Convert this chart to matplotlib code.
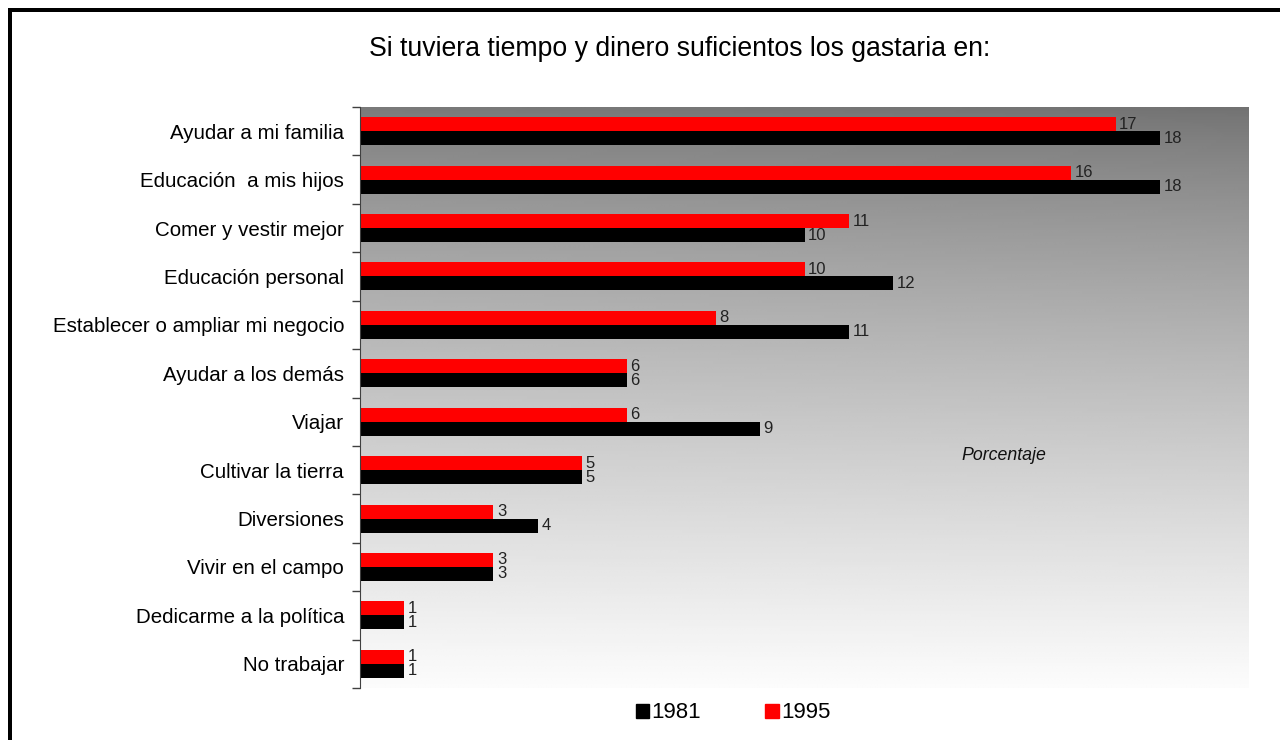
import numpy as np
import matplotlib
matplotlib.use("Agg")
import matplotlib.pyplot as plt
from matplotlib.patches import Patch, Rectangle

plt.rcParams["font.family"] = ["Liberation Sans", "DejaVu Sans"]

# datos
categorias = ["Ayudar a mi familia", "Educación  a mis hijos", "Comer y vestir mejor",
              "Educación personal", "Establecer o ampliar mi negocio", "Ayudar a los demás",
              "Viajar", "Cultivar la tierra", "Diversiones", "Vivir en el campo",
              "Dedicarme a la política", "No trabajar"]
v1981 = [18, 18, 10, 12, 11, 6, 9, 5, 4, 3, 1, 1]
v1995 = [17, 16, 11, 10, 8, 6, 6, 5, 3, 3, 1, 1]
series = ["1981", "1995"]

W, H = 1280, 740
fig = plt.figure(figsize=(12.8, 7.4), dpi=100)
ax = fig.add_axes([360 / W, 1 - 688 / H, (1249 - 360) / W, (688 - 107) / H])

n = len(categorias)
y = np.arange(n)
h = 0.29

# fondo degradado
gy, gx = np.mgrid[0:1:200j, 0:1:200j]
grad = 122 + 130 * gy ** 0.8 - 8 * gx * (1 - gy)
ax.imshow(grad / 255, cmap="gray", vmin=0, vmax=1, extent=[0, 20, n - 0.5, -0.5],
          aspect="auto", zorder=0, interpolation="bilinear")

ax.barh(y - h / 2, v1995, height=h, color="#ff0000", zorder=2)
ax.barh(y + h / 2, v1981, height=h, color="#000000", zorder=2)

for i in range(n):
    ax.text(v1995[i] + 0.08, y[i] - h / 2, str(v1995[i]), va="center", ha="left",
            fontsize=12, color="#222222", zorder=3)
    ax.text(v1981[i] + 0.08, y[i] + h / 2, str(v1981[i]), va="center", ha="left",
            fontsize=12, color="#222222", zorder=3)

ax.set_xlim(0, 20)
ax.set_ylim(n - 0.5, -0.5)
ax.set_xticks([])
ax.set_yticks(np.arange(n + 1) - 0.5)
ax.set_yticklabels([])
ax.set_yticks(y, minor=True)
ax.set_yticklabels(categorias, minor=True, fontsize=14.8)
ax.tick_params(axis="y", which="major", length=6, color="#404040", width=1)
ax.tick_params(axis="y", which="minor", length=0, pad=11.5)
for s in ["top", "right", "bottom"]:
    ax.spines[s].set_visible(False)
ax.spines["left"].set_color("#404040")

ax.text(0.724, 0.4, "Porcentaje", transform=ax.transAxes, fontsize=12.8,
        style="italic", ha="center", va="center", color="#111111")

fig.text(680 / W, 1 - 49 / H, "Si tuviera tiempo y dinero suficientos los gastaria en:",
         ha="center", va="center", fontsize=19.2)

handles = [Patch(color="#000000"), Patch(color="#ff0000")]
fig.legend(handles, series, loc="center", bbox_to_anchor=(733 / W, 1 - 713 / H),
           ncol=2, frameon=False, fontsize=16, handlelength=0.6, handleheight=0.6,
           handletextpad=0.1, columnspacing=2.9)

# marco
fig.add_artist(Rectangle((8 / W, 0), 4 / W, 1 - 8 / H, transform=fig.transFigure,
                         color="black", lw=0))
fig.add_artist(Rectangle((8 / W, 1 - 12 / H), 1 - 8 / W, 4 / H, transform=fig.transFigure,
                         color="black", lw=0))

fig.savefig("out.png", dpi=100)
